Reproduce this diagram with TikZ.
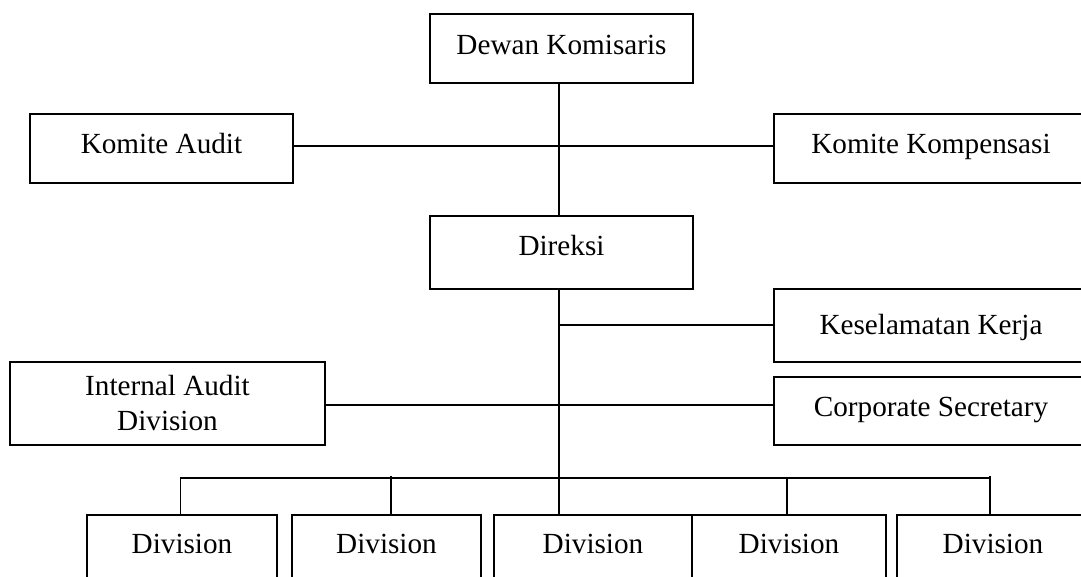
\documentclass[tikz,border=0pt]{standalone}
\usepackage{fontspec}
\setmainfont{Liberation Serif}
\begin{document}
\begin{tikzpicture}[x=1pt, y=-1pt, line width=1.9pt,
  box/.style={draw, rectangle, inner sep=0pt, align=center,
    font=\fontsize{29.2pt}{35pt}\selectfont},
  tb/.style={text height=20pt, text depth=#1},
  divbox/.style={box, tb=32pt, anchor=north, minimum height=90pt}]
  % page frame, everything outside is cut away
  \path[use as bounding box, fill=white] (0,0) rectangle (1081,577);
  \clip (0,0) rectangle (1081,577);

  % board level
  \node[box, tb=7pt, minimum width=263pt, minimum height=69pt] (dk) at (561.5,48.5) {Dewan Komisaris};
  \node[box, tb=9pt, minimum width=263pt, minimum height=69pt] (ka) at (161.5,148.5) {Komite Audit};
  \node[box, tb=9pt, minimum width=314pt, minimum height=69pt] (kk) at (931,148.5) {Komite Kompensasi};

  % directors and staff units
  \node[box, tb=15pt, minimum width=263pt, minimum height=73pt] (dir) at (561.5,252.5) {Direksi};
  \node[box, tb=3pt, minimum width=314pt, minimum height=73pt] (ks) at (931,325.5) {Keselamatan Kerja};
  \node[box, tb=10pt, minimum width=314pt, minimum height=68pt] (cs) at (931,411) {Corporate Secretary};
  \node[box, minimum width=315pt, minimum height=83pt] (ia) at (167.5,403.5) {Internal Audit\\Division};

  % divisions
  \node[divbox, minimum width=190pt] (d1) at (182,514) {Division};
  \node[divbox, minimum width=189pt] (d2) at (386.5,514) {Division};
  \node[divbox, minimum width=198pt] (d3) at (593,514) {Division};
  \node[divbox, minimum width=194pt] (d4) at (789,514) {Division};
  \node[divbox, minimum width=192pt] (d5) at (993,514) {Division};

  % connector guides
  \coordinate (spine) at (559.3,0);
  \coordinate (komy) at (0,146);
  \coordinate (ksy) at (0,325);
  \coordinate (csy) at (0,405);
  \coordinate (bus) at (0,478);
  \coordinate (t1) at (180.5,0);
  \coordinate (t2) at (390.8,476);
  \coordinate (t4) at (786.7,0);
  \coordinate (t5) at (990,476);

  % connectors
  \draw (dk.south -| spine) -- (dir.north -| spine);
  \draw (ka.east |- komy) -- (kk.west |- komy);
  \draw (dir.south -| spine) -- (d3.north -| spine);
  \draw (spine |- ksy) -- (ks.west |- ksy);
  \draw (ia.east |- csy) -- (cs.west |- csy);
  \draw (t1 |- d1.north) -- (t1 |- bus) -- (t5 |- bus);
  \draw (t2) -- (t2 |- d2.north);
  \draw (t4 |- bus) -- (t4 |- d4.north);
  \draw (t5) -- (t5 |- d5.north);
\end{tikzpicture}
\end{document}
